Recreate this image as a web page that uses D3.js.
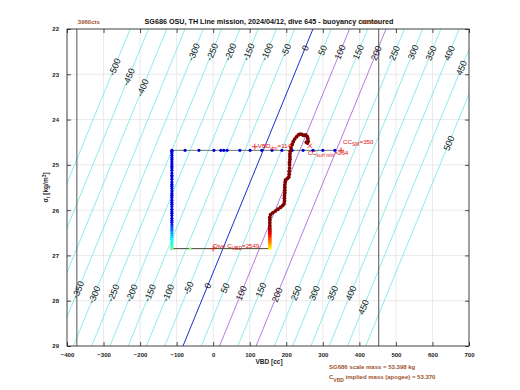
<!DOCTYPE html>
<html><head><meta charset="utf-8">
<script src="https://cdn.jsdelivr.net/npm/d3@7"></script>
<style>
body{margin:0;background:#fff;}
text{font-family:"Liberation Sans",Arial,sans-serif;}
</style></head>
<body><svg id="c" width="520" height="390"></svg>
<script>
// ---------- data ----------
const xTicks = [-400,-300,-200,-100,0,100,200,300,400,500,600,700];
const yTicks = [22,23,24,25,26,27,28,29];
const contourLevels = [-500,-450,-400,-350,-300,-250,-200,-150,-100,-50,0,50,100,150,200,250,300,350,400,450,500];
const neutralVBDat22 = 273;      // VBD of zero buoyancy at sigma 22
const vbdPerSigma = -50.8;       // change of neutral VBD per sigma unit
const contourLabelLevels = [-500,-450,-400,-300,-250,-200,-150,-100,-50,0,50,100,150,200,250,300,350,400,450,500,
  -350,-300,-250,-200,-150,-100,-50,0,50,100,150,200,250,300,350,400,450];
const contourLabelSigma = [22.84,23.06,23.30,22.51,22.51,22.51,22.51,22.51,22.47,22.42,22.47,22.51,22.51,22.53,22.53,22.51,22.53,22.53,22.86,24.52,
  27.76,27.87,27.83,27.83,27.83,27.83,27.72,27.67,27.72,27.83,27.76,27.87,27.83,27.83,27.83,27.83,28.14];
const vbdLimits = [-373, 453];
const vbdLimitCounts = ["3960cts", "835cts"];

// surface segment (sigma constant)
const surfVBD = [-113,-77,-39,2,21,29,38,73,101,133,161,188,216,246,273,300,333];
const surfSigma = 24.68;
// descent at constant VBD
const descentVBD = -113;
const descentSigma = [24.70,24.74,24.79,24.84,24.88,24.93,24.98,25.03,25.07,25.12,25.18,25.23,25.27,25.32,25.38,25.43,25.47,25.52,25.58,25.63,25.67,25.72,25.78,25.83,25.87,25.92,25.98,26.03,26.07,26.12,26.18,26.23,26.27,26.32,26.37,26.42,26.46,26.51,26.56,26.60,26.64,26.68,26.72,26.76,26.80,26.83,26.85];
const descentColor = [0.1,0.1,0.1,0.1,0.1,0.1,0.1,0.1,0.1,0.1,0.1,0.1,0.1,0.1,0.1,0.1,0.1,0.1,0.1,0.1,0.1,0.1,0.1,0.1,0.1,0.1,0.1,0.1,0.1,0.1,0.1,0.12,0.14,0.16,0.19,0.22,0.25,0.28,0.31,0.34,0.36,0.38,0.40,0.42,0.44,0.46,0.48];
// apogee pump segment
const apogeeVBD = [-113,-63,155];
const apogeeSigma = 26.85;
const apogeeColor = [0.48,0.5,0.62];
// climb
const climbVBD = [155,155,155,155,155,155,155,155,155,155,155,155,155,155,155,155,157,163,170,177,184,190,194,195,195,195,196,196,196,196,197,198,203,207,208,208,209,209,209,210,210,210,211,213,216,219,223,228,233,238,243,248,253,257,259,260,258,255];
const climbSigma = [26.83,26.79,26.75,26.71,26.67,26.63,26.59,26.55,26.51,26.47,26.43,26.39,26.34,26.28,26.22,26.16,26.10,26.06,26.02,25.98,25.94,25.90,25.86,25.80,25.74,25.68,25.62,25.56,25.50,25.44,25.38,25.33,25.30,25.27,25.21,25.14,25.07,25.00,24.94,24.88,24.82,24.76,24.70,24.62,24.55,24.49,24.43,24.38,24.34,24.32,24.33,24.35,24.34,24.37,24.42,24.48,24.52,24.50];
const climbColor = [0.64,0.67,0.70,0.73,0.76,0.79,0.82,0.85,0.88,0.91,0.94,0.96,0.98,1,1,1,1,1,1,1,1,1,1,1,1,1,1,1,1,1,1,1,1,1,1,1,1,1,1,1,1,1,1,1,1,1,1,1,1,1,1,1,1,1,1,1,1,1];

// annotation markers
const markerVBD_trim = 114, markerSigma_trim = 24.6;
const ccSurfMin = 264, ccSM = 350, ccSigma = 24.68;
const diveCVBD = 2549;
const titleText = "SG686 OSU, TH Line mission, 2024/04/12, dive 645 - buoyancy contoured";
const massLine1 = "SG686 scale mass = 53.398 kg";
const massLine2a = "C", massLine2sub = "VBD", massLine2b = " implied mass (apogee) = 53.370";

// ---------- drawing ----------
const svg = d3.select("#c");
const L=67,R=469,T=29,B=346;
const x = d3.scaleLinear([-400,700],[L,R]);
const y = d3.scaleLinear([22,29],[T,B]);
const neutral = (b,s) => neutralVBDat22 + b + vbdPerSigma*(s-22);
function jet(t){
  const c=v=>Math.max(0,Math.min(1,v));
  const r=c(1.5-Math.abs(4*t-3)), g=c(1.5-Math.abs(4*t-2)), b=c(1.5-Math.abs(4*t-1));
  return d3.rgb(r*255,g*255,b*255).toString();
}

svg.append("defs").append("clipPath").attr("id","clip").append("rect")
  .attr("x",L).attr("y",T).attr("width",R-L).attr("height",B-T);

// grid
const grid = svg.append("g");
grid.selectAll(".gx").data(xTicks).join("line")
  .attr("x1",d=>x(d)).attr("x2",d=>x(d)).attr("y1",T).attr("y2",B)
  .attr("stroke","#e4e4e4").attr("stroke-width",0.8);
grid.selectAll(".gy").data(yTicks).join("line")
  .attr("y1",d=>y(d)).attr("y2",d=>y(d)).attr("x1",L).attr("x2",R)
  .attr("stroke","#e4e4e4").attr("stroke-width",0.8);

// contours
const cg = svg.append("g").attr("clip-path","url(#clip)");
const line = d3.line().x(d=>x(d[0])).y(d=>y(d[1]));
cg.selectAll("path.ct").data(contourLevels).join("path")
  .attr("d",b=>line([[neutral(b,22),22],[neutral(b,29),29]]))
  .attr("fill","none")
  .attr("stroke",b=> b===0 ? "#1a2fd0" : (b===100||b===200) ? "#a05ad8" : "#72e4e8")
  .attr("stroke-width",b=> b===0 ? 1 : 0.8);

// vbd limit lines
svg.selectAll("line.lim").data(vbdLimits).join("line")
  .attr("x1",d=>x(d)).attr("x2",d=>x(d)).attr("y1",T).attr("y2",B)
  .attr("stroke","#555").attr("stroke-width",1);

// contour labels
svg.append("g").selectAll("text").data(contourLabelLevels.map((b,i)=>[b,contourLabelSigma[i]])).join("text")
  .attr("transform",d=>`translate(${x(neutral(d[0],d[1]))},${y(d[1])}) rotate(${-67.7})`)
  .attr("text-anchor","middle").attr("dy","0.35em")
  .attr("font-size",9).attr("fill","#111").text(d=>d[0]);

// data
const dg = svg.append("g").attr("clip-path","url(#clip)");
const pathColor = "#405a55";
dg.append("path").attr("d",line(surfVBD.map(v=>[v,surfSigma]))).attr("fill","none").attr("stroke",pathColor).attr("stroke-width",0.8);
dg.append("path").attr("d",line([[descentVBD,descentSigma[0]],[descentVBD,descentSigma[descentSigma.length-1]]])).attr("fill","none").attr("stroke",pathColor).attr("stroke-width",0.8);
dg.append("path").attr("d",line(apogeeVBD.map(v=>[v,apogeeSigma]))).attr("fill","none").attr("stroke","#4a4a30").attr("stroke-width",1);
dg.append("path").attr("d",line(climbVBD.map((v,i)=>[v,climbSigma[i]]))).attr("fill","none").attr("stroke","#6a1010").attr("stroke-width",0.8);

dg.selectAll("circle.s").data(surfVBD).join("circle")
  .attr("cx",d=>x(d)).attr("cy",y(surfSigma)).attr("r",1.6).attr("fill",jet(0.08));
dg.selectAll("circle.d").data(descentSigma).join("circle")
  .attr("cx",x(descentVBD)).attr("cy",d=>y(d)).attr("r",1.6).attr("fill",(d,i)=>jet(descentColor[i]));
dg.selectAll("circle.a").data(apogeeVBD).join("circle")
  .attr("cx",d=>x(d)).attr("cy",y(apogeeSigma)).attr("r",1.4).attr("fill",(d,i)=>jet(apogeeColor[i]));
dg.selectAll("circle.c").data(climbVBD).join("circle")
  .attr("cx",d=>x(d)).attr("cy",(d,i)=>y(climbSigma[i])).attr("r",1.9).attr("fill",(d,i)=>jet(climbColor[i]));

// annotations
const red = "#e01010";
const ann = svg.append("g").attr("fill",red).attr("font-size",6.2);
function plus(vx,vy){
  const px=x(vx), py=y(vy);
  svg.append("path").attr("d",`M${px-3},${py}H${px+3}M${px},${py-3}V${py+3}`).attr("stroke",red).attr("stroke-width",0.8);
}
function cross(vx,vy){
  const px=x(vx), py=y(vy);
  svg.append("path").attr("d",`M${px-2.2},${py-2.2}L${px+2.2},${py+2.2}M${px-2.2},${py+2.2}L${px+2.2},${py-2.2}`).attr("stroke",red).attr("stroke-width",0.8);
}
plus(markerVBD_trim, markerSigma_trim);
let t1 = ann.append("text").attr("x",x(markerVBD_trim)+3).attr("y",y(markerSigma_trim)+1.5);
t1.append("tspan").text("VBD");
t1.append("tspan").attr("dy",2).attr("font-size",5).text("dm");
t1.append("tspan").attr("dy",-2).text("=" + markerVBD_trim);

cross(ccSurfMin, ccSigma-0.1);
let t2 = ann.append("text").attr("x",x(ccSurfMin)-2).attr("y",y(ccSigma)+5);
t2.append("tspan").text("CC");
t2.append("tspan").attr("dy",2).attr("font-size",5).text("surf min");
t2.append("tspan").attr("dy",-2).text("=" + ccSurfMin);

plus(ccSM, ccSigma);
let t3 = ann.append("text").attr("x",x(ccSM)+2).attr("y",y(ccSigma)-6);
t3.append("tspan").text("CC");
t3.append("tspan").attr("dy",2).attr("font-size",5).text("SM");
t3.append("tspan").attr("dy",-2).text("=" + ccSM);

plus(0, apogeeSigma);
let t4 = ann.append("text").attr("x",x(0)).attr("y",y(apogeeSigma)-1);
t4.append("tspan").text("Dive C");
t4.append("tspan").attr("dy",2).attr("font-size",5).text("VBD");
t4.append("tspan").attr("dy",-2).text("=" + diveCVBD);

// frame & axes
svg.append("rect").attr("x",L).attr("y",T).attr("width",R-L).attr("height",B-T)
  .attr("fill","none").attr("stroke","#222").attr("stroke-width",0.8);
const ax = g=>{g.select(".domain").remove(); g.selectAll("line").attr("stroke","#222").attr("stroke-width",0.8);
  g.selectAll("text").attr("font-size",6).attr("font-weight","bold").attr("fill","#222");};
svg.append("g").attr("transform",`translate(0,${B})`).call(d3.axisBottom(x).tickValues(xTicks).tickSize(-4).tickPadding(7)).call(ax);
svg.append("g").attr("transform",`translate(0,${T})`).call(d3.axisTop(x).tickValues(xTicks).tickSize(-4).tickFormat("")).call(ax);
svg.append("g").attr("transform",`translate(${L},0)`).call(d3.axisLeft(y).tickValues(yTicks).tickFormat(d3.format("d")).tickSize(-4).tickPadding(8)).call(ax);
svg.append("g").attr("transform",`translate(${R},0)`).call(d3.axisRight(y).tickValues(yTicks).tickSize(-4).tickFormat("")).call(ax);

// titles
svg.append("text").attr("x",269).attr("y",24).attr("text-anchor","middle")
  .attr("font-size",7.2).attr("font-weight","bold").attr("fill","#111").text(titleText);
svg.selectAll("text.cts").data(vbdLimits).join("text")
  .attr("x",(d,i)=> i===0 ? x(d)+1 : x(d)-17).attr("y",24)
  .attr("font-size",6).attr("font-weight","bold").attr("fill","#a0522d").text((d,i)=>vbdLimitCounts[i]);
svg.append("text").attr("x",269).attr("y",364).attr("text-anchor","middle")
  .attr("font-size",6.5).attr("font-weight","bold").attr("fill","#222").text("VBD [cc]");
const yl = svg.append("text").attr("transform",`translate(48,${y(25.5)}) rotate(-90)`).attr("text-anchor","middle")
  .attr("font-size",6.5).attr("font-weight","bold").attr("fill","#222");
yl.append("tspan").text("σ");
yl.append("tspan").attr("dy",2).attr("font-size",5).text("t");
yl.append("tspan").attr("dy",-2).text(" [kg/m");
yl.append("tspan").attr("dy",-2).attr("font-size",5).text("3");
yl.append("tspan").attr("dy",2).text("]");

const mg = svg.append("g").attr("fill","#a0522d").attr("font-size",6).attr("font-weight","bold");
mg.append("text").attr("x",329).attr("y",369).text(massLine1);
const m2 = mg.append("text").attr("x",329).attr("y",379);
m2.append("tspan").text(massLine2a);
m2.append("tspan").attr("dy",2.5).attr("font-size",5).text(massLine2sub);
m2.append("tspan").attr("dy",-2.5).text(massLine2b);
</script></body></html>
